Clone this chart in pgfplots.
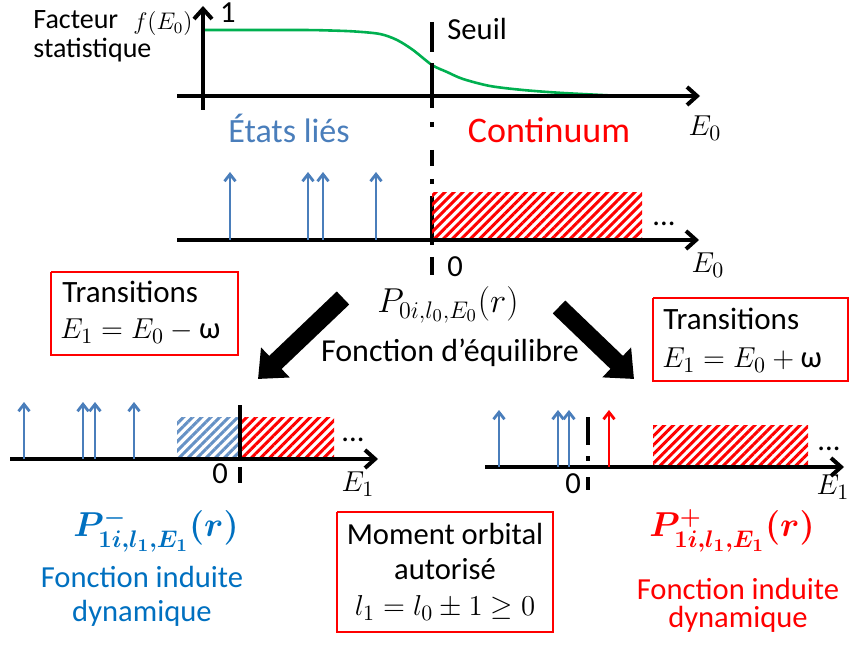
\documentclass[border=0pt]{standalone}
\usepackage{pgfplots}
\pgfplotsset{compat=1.18}
\usepackage{fontspec}
\setmainfont{Carlito}
\usetikzlibrary{arrows.meta,patterns.meta}
\definecolor{lblue}{HTML}{4A7EBB}
\definecolor{tblue}{HTML}{0070C0}
\definecolor{fgreen}{HTML}{00B050}
\definecolor{fred}{HTML}{FF0000}
\tikzset{
  axln/.style={line width=2pt,-{Straight Barb[length=5pt,width=9pt]}},
  upar/.style={line width=1.4pt,-{Straight Barb[length=3.5pt,width=5.5pt]}},
  vdsh/.style={line width=2pt},
  hatchred/.style={draw=none,pattern={Lines[angle=45,distance=3.2pt,line width=1.5pt]},pattern color=fred},
  hatchblue/.style={draw=none,pattern={Lines[angle=45,distance=3.2pt,line width=1.5pt]},pattern color=lblue!85},
  bigarr/.style={line width=9pt,-{Triangle[length=12pt,width=20pt]}},
  tf/.style={font=\fontsize{15.3}{18}\selectfont},
  rbox/.style={fred,line width=1pt,line join=miter},
}
\begin{document}
\begin{tikzpicture}
\begin{axis}[x=0.5pt,y=0.5pt,xmin=0,xmax=850,ymin=0,ymax=646,y dir=reverse,
  hide axis,clip=false]
\addplot[draw=none] coordinates {(0,0) (850,646)};
% ---------- top panel ----------
\addplot[fgreen,line width=1.3pt,smooth,tension=0.5] coordinates {
 (203,30) (300,30) (330,30.5) (355,31.5) (380,34) (397,40) (413,50) (432,65)
 (447,72) (463,79) (490,86) (523,90) (563,93) (622,96)};
\addplot[axln] coordinates {(177,96) (700,96)};
\addplot[axln] coordinates {(203,110) (203,6)};
\addplot[vdsh] coordinates {(432,22) (432,52)};
\addplot[vdsh] coordinates {(432,63) (432,108)};
\addplot[vdsh] coordinates {(432,122) (432,127)};
\addplot[vdsh] coordinates {(432,150) (432,166)};
\addplot[vdsh] coordinates {(432,179) (432,184)};
\addplot[vdsh] coordinates {(432,196) (432,245)};
\addplot[vdsh] coordinates {(432,257) (432,275)};
% ---------- second panel ----------
\addplot[hatchred] coordinates {(432,193) (642,193) (642,240) (432,240) (432,193)};
\addplot[axln] coordinates {(177,240) (699,240)};
\addplot[upar,lblue] coordinates {(230,240) (230,172)};
\addplot[upar,lblue] coordinates {(308,240) (308,172)};
\addplot[upar,lblue] coordinates {(323,240) (323,172)};
\addplot[upar,lblue] coordinates {(376,240) (376,172)};
% ---------- middle ----------
\addplot[bigarr] coordinates {(343,298) (258,379)};
\addplot[bigarr] coordinates {(559,307) (634,379)};
\addplot[rbox] coordinates {(51,272) (238,272) (238,355) (51,355) (51,272)};
\addplot[rbox] coordinates {(653,298) (848,298) (848,381) (653,381) (653,298)};
% ---------- bottom left ----------
\addplot[hatchblue] coordinates {(177,417) (240,417) (240,459) (177,459) (177,417)};
\addplot[hatchred] coordinates {(240,417) (334,417) (334,459) (240,459) (240,417)};
\addplot[axln] coordinates {(10,459) (378,459)};
\addplot[upar,lblue] coordinates {(24,459) (24,402)};
\addplot[upar,lblue] coordinates {(83,459) (83,402)};
\addplot[upar,lblue] coordinates {(95,459) (95,402)};
\addplot[upar,lblue] coordinates {(134,459) (134,402)};
\addplot[vdsh] coordinates {(240,405) (240,457)};
\addplot[vdsh] coordinates {(240,467) (240,483)};
% ---------- bottom right ----------
\addplot[hatchred] coordinates {(653,425) (808,425) (808,467) (653,467) (653,425)};
\addplot[axln] coordinates {(485,467) (844,467)};
\addplot[upar,lblue] coordinates {(499,467) (499,410)};
\addplot[upar,lblue] coordinates {(558,467) (558,410)};
\addplot[upar,lblue] coordinates {(569,467) (569,410)};
\addplot[upar,fred] coordinates {(609,467) (609,410)};
\addplot[vdsh] coordinates {(588,417) (588,445)};
\addplot[vdsh] coordinates {(588,456) (588,461)};
\addplot[vdsh] coordinates {(588,477) (588,490)};
\addplot[rbox] coordinates {(337,512) (553,512) (553,632) (337,632) (337,512)};
\end{axis}
\begin{scope}[x=0.5pt,y=-0.5pt,shift={(0pt,323pt)},every node/.style={inner sep=0pt}]
\node[anchor=base west,font=\fontsize{14}{16}\selectfont] at (33,29) {Facteur};
\node[anchor=base west,font=\fontsize{14}{16}\selectfont] at (33,58) {statistique};
\node[anchor=base east,font=\fontsize{11.8}{14}\selectfont] at (193,30) {$f(E_0)$};
\node[anchor=base,tf] at (228,23) {1};
\node[anchor=base west,tf] at (447,40) {Seuil};
\node[anchor=base,font=\fontsize{17}{20}\selectfont,text=lblue] at (289,143) {États liés};
\node[anchor=base,font=\fontsize{18}{20}\selectfont,text=fred] at (549,143) {Continuum};
\node[anchor=base,tf] at (705,136) {$E_0$};
\node[anchor=base,tf] at (664,226) {...};
\node[anchor=base,tf] at (455,277) {0};
\node[anchor=base,tf] at (708,273) {$E_0$};
\node[anchor=base,font=\fontsize{18}{20}\selectfont] at (448,313) {$P_{0i,l_0,E_0}(r)$};
\node[anchor=base,font=\fontsize{16}{18}\selectfont] at (450,362) {Fonction d’équilibre};
\node[anchor=base west,font=\fontsize{15.5}{18}\selectfont] at (62,303) {Transitions};
\node[anchor=base west,tf] at (60,339) {$E_1=E_0-\mbox{ω}$};
\node[anchor=base west,font=\fontsize{15.5}{18}\selectfont] at (663,330) {Transitions};
\node[anchor=base west,tf] at (662,368) {$E_1=E_0+\mbox{ω}$};
\node[anchor=base,tf] at (353,442) {...};
\node[anchor=base,tf] at (220,484) {0};
\node[anchor=base,tf] at (358,492) {$E_1$};
\node[anchor=base,tf] at (829,451) {...};
\node[anchor=base,tf] at (573,494) {0};
\node[anchor=base,tf] at (833,495) {$E_1$};
\node[anchor=base,font=\fontsize{18}{20}\selectfont,text=tblue] at (156,537) {{\boldmath$P^{-}_{1i,l_1,E_1}(r)$}};
\node[anchor=base,tf,text=tblue] at (142,588) {Fonction induite};
\node[anchor=base,tf,text=tblue] at (142,622) {dynamique};
\node[anchor=base,font=\fontsize{18}{20}\selectfont,text=fred] at (732,537) {{\boldmath$P^{+}_{1i,l_1,E_1}(r)$}};
\node[anchor=base,tf,text=fred] at (738,600) {Fonction induite};
\node[anchor=base,tf,text=fred] at (738,628) {dynamique};
\node[anchor=base,tf] at (445,545) {Moment orbital};
\node[anchor=base,tf] at (445,580) {autorisé};
\node[anchor=base,tf] at (445,616) {$l_1=l_0\pm1\geq0$};
\end{scope}
\end{tikzpicture}
\end{document}
